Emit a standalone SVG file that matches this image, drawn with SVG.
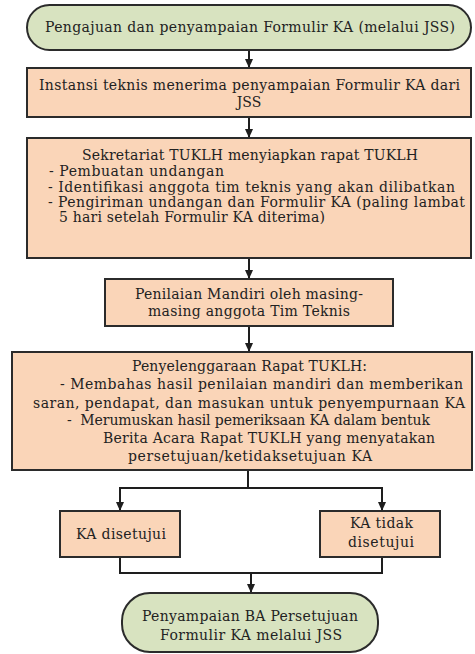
<svg xmlns="http://www.w3.org/2000/svg" width="475" height="654" viewBox="0 0 475 654">
<style>
.box{fill:#fad5b8;stroke:#2b2b2b;stroke-width:2}
.term{fill:#d8e3c0;stroke:#2b2b2b;stroke-width:2}
.t{font-family:"DejaVu Serif","Liberation Serif",serif;font-size:14px;fill:#222222}
.c{text-anchor:middle}
.conn{fill:none;stroke:#1e1e1e;stroke-width:2}
</style>
<defs>
<marker id="ah" markerUnits="userSpaceOnUse" markerWidth="9" markerHeight="8" refX="9" refY="4" orient="auto">
<path d="M0,0 L9,4 L0,8 z" fill="#1e1e1e"/>
</marker>
</defs>
<rect width="475" height="654" fill="#ffffff"/>
<g id="connectors">
<line class="conn" x1="249" y1="50" x2="249" y2="68" marker-end="url(#ah)"/>
<line class="conn" x1="249" y1="117" x2="249" y2="138" marker-end="url(#ah)"/>
<line class="conn" x1="249" y1="258" x2="249" y2="279" marker-end="url(#ah)"/>
<line class="conn" x1="249" y1="326" x2="249" y2="352" marker-end="url(#ah)"/>
<line class="conn" x1="248" y1="470" x2="248" y2="488"/>
<polyline class="conn" points="120,488 382,488 382,511" marker-end="url(#ah)"/>
<line class="conn" x1="120" y1="487" x2="120" y2="511" marker-end="url(#ah)"/>
<polyline class="conn" points="120,557 120,573 382,573 382,557"/>
<line class="conn" x1="251" y1="573" x2="251" y2="593" marker-end="url(#ah)"/>
</g>
<g id="n1">
<rect class="term" x="27" y="5" width="444" height="45" rx="22.5"/>
<text class="t" x="45" y="32" textLength="410">Pengajuan dan penyampaian Formulir KA (melalui JSS)</text>
</g>
<g id="n2">
<rect class="box" x="27" y="68" width="444" height="49"/>
<text class="t" x="39" y="90" textLength="421">Instansi teknis menerima penyampaian Formulir KA dari</text>
<text class="t c" x="249" y="107">JSS</text>
</g>
<g id="n3">
<rect class="box" x="27" y="138" width="444" height="120"/>
<text class="t" x="82" y="160" textLength="336">Sekretariat TUKLH menyiapkan rapat TUKLH</text>
<text class="t" x="49" y="176" textLength="175">- Pembuatan undangan</text>
<text class="t" x="48" y="192" textLength="407">- Identifikasi anggota tim teknis yang akan dilibatkan</text>
<text class="t" x="48" y="207" textLength="417">- Pengiriman undangan dan Formulir KA (paling lambat</text>
<text class="t" x="59" y="222" textLength="266">5 hari setelah Formulir KA diterima)</text>
</g>
<g id="n4">
<rect class="box" x="105" y="279" width="288" height="47"/>
<text class="t" x="135" y="299" textLength="228">Penilaian Mandiri oleh masing-</text>
<text class="t" x="148" y="316" textLength="202">masing anggota Tim Teknis</text>
</g>
<g id="n5">
<rect class="box" x="12" y="352" width="460" height="118"/>
<text class="t" x="132" y="371" textLength="235">Penyelenggaraan Rapat TUKLH:</text>
<text class="t" x="60" y="389" textLength="403">- Membahas hasil penilaian mandiri dan memberikan</text>
<text class="t" x="33" y="408" textLength="432">saran, pendapat, dan masukan untuk penyempurnaan KA</text>
<text class="t" x="67" y="425" textLength="363" xml:space="preserve">-  Merumuskan hasil pemeriksaan KA dalam bentuk</text>
<text class="t" x="103" y="443" textLength="332">Berita Acara Rapat TUKLH yang menyatakan</text>
<text class="t" x="128" y="461" textLength="244">persetujuan/ketidaksetujuan KA</text>
</g>
<g id="n6">
<rect class="box" x="60" y="511" width="120" height="46"/>
<text class="t" x="76" y="539" textLength="90">KA disetujui</text>
</g>
<g id="n7">
<rect class="box" x="320" y="511" width="120" height="46"/>
<text class="t" x="350" y="528" textLength="63">KA tidak</text>
<text class="t" x="348" y="547" textLength="66">disetujui</text>
</g>
<g id="n8">
<rect class="term" x="122" y="593" width="256" height="59" rx="28"/>
<text class="t" x="142" y="621" textLength="216">Penyampaian BA Persetujuan</text>
<text class="t" x="160" y="640" textLength="182">Formulir KA melalui JSS</text>
</g>
</svg>
